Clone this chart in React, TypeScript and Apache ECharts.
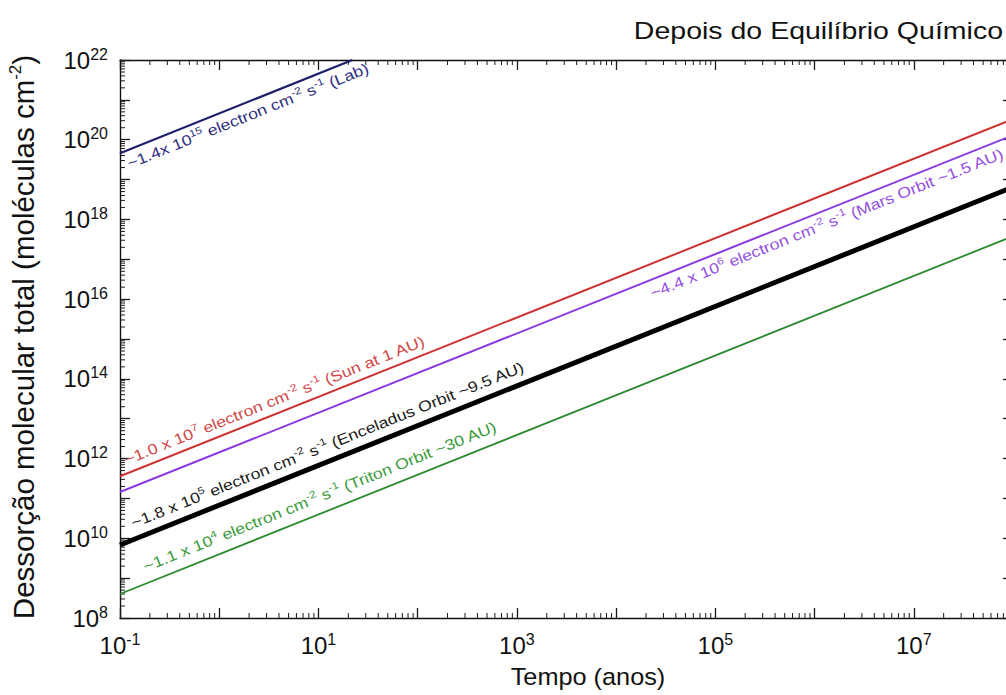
import React, { useEffect, useRef } from 'react';
import * as echarts from 'echarts';

// ---- data ----
const xMin = 0.1;
const xMax = 1e8;
const yMin = 1e8;
const yMax = 1e22;

const labData = [[0.1, 4.6e19], [22, 1e22]];
const sunData = [[0.1, 3.6e11], [1e8, 3.3e20]];
const marsData = [[0.1, 1.45e11], [1e8, 1.3e20]];
const enceladusData = [[0.1, 6.8e9], [1e8, 6.5e18]];
const tritonData = [[0.1, 4.0e8], [1e8, 3.8e17]];

const seriesNames = ['Lab', 'Sun at 1 AU', 'Mars Orbit', 'Enceladus Orbit', 'Triton Orbit'];
const labelTexts = [
  '~1.4x 10{s|15} electron cm{s|-2} s{s|-1} (Lab)',
  '~1.0 x 10{s|7} electron cm{s|-2} s{s|-1} (Sun at 1 AU)',
  '~4.4 x 10{s|6} electron cm{s|-2} s{s|-1} (Mars Orbit ~1.5 AU)',
  '~1.8 x 10{s|5} electron cm{s|-2} s{s|-1} (Enceladus Orbit ~9.5 AU)',
  '~1.1 x 10{s|4} electron cm{s|-2} s{s|-1} (Triton Orbit ~30 AU)',
];
const labelStartX = [0.107, 0.125, 2.0e4, 0.15, 0.2];

const xDecades = [-1, 0, 1, 2, 3, 4, 5, 6, 7];
const yDecades = [8, 9, 10, 11, 12, 13, 14, 15, 16, 17, 18, 19, 20, 21];
const minorMultipliers = [2, 3, 4, 5, 6, 7, 8, 9];

const titleText = 'Depois do Equilíbrio Químico';
const xTitle = 'Tempo (anos)';
const yTitle = 'Dessorção molecular total (moléculas cm{s|-2})';

// ---- styles ----
const FONT = '"Liberation Sans", Arial, Helvetica, sans-serif';
const lineColors = ['#1f1f6e', '#cc3333', '#8a3bdd', '#000000', '#2b8a2b'];
const textColors = ['#2e2e80', '#d04848', '#9450e0', '#1a1a1a', '#3a9a3a'];
const lineWidths = [2.2, 2, 2, 5, 1.8];
const labelSides = ['below', 'above', 'below', 'above', 'above'];
const labelGaps = [2, 3, 2, 4, 6];

const allData = [labData, sunData, marsData, enceladusData, tritonData];

export default function App() {
  const ref = useRef<HTMLDivElement>(null);

  useEffect(() => {
    if (!ref.current) return;
    const chart = echarts.init(ref.current, null, { renderer: 'svg' });

    const tickColor = '#1a1a1a';
    const richAxis = {
      b: { fontSize: 24, lineHeight: 28, fontFamily: FONT, color: '#111' },
      s: { fontSize: 16, lineHeight: 16, verticalAlign: 'top', fontFamily: FONT, color: '#111' },
    };

    const baseAxis = {
      type: 'log',
      logBase: 10,
      interval: 1,
      minInterval: 1,
      maxInterval: 1,
      splitLine: { show: false },
      axisLine: { show: true, onZero: false, lineStyle: { color: '#111', width: 1.4 } },
      axisTick: { show: true, inside: true, length: 10, lineStyle: { color: tickColor, width: 1.3 } },
    };

    const option: any = {
      animation: false,
      backgroundColor: '#ffffff',
      grid: { left: 120, top: 60, right: 17, bottom: 77, containLabel: false, outerBoundsMode: 'none' },
      xAxis: [
        {
          ...baseAxis,
          position: 'bottom',
          min: xMin,
          max: xMax,
          splitNumber: 9,
          axisLabel: {
            margin: 13,
            showMinLabel: true,
            showMaxLabel: true,
            hideOverlap: false,
            formatter: (v: number) => {
              const e = Math.round(Math.log10(v));
              return (e + 1) % 2 === 0 ? `{b|10}{s|${e}}` : '';
            },
            rich: richAxis,
          },
        },
        {
          ...baseAxis,
          position: 'top',
          min: xMin,
          max: xMax,
          splitNumber: 9,
          axisLabel: { show: false },
        },
      ],
      yAxis: [
        {
          ...baseAxis,
          position: 'left',
          min: yMin,
          max: yMax,
          splitNumber: 14,
          axisLabel: {
            margin: 12,
            showMinLabel: true,
            showMaxLabel: true,
            hideOverlap: false,
            formatter: (v: number) => {
              const e = Math.round(Math.log10(v));
              return e % 2 === 0 ? `{b|10}{s|${e}}` : '';
            },
            rich: richAxis,
          },
        },
        {
          ...baseAxis,
          position: 'right',
          min: yMin,
          max: yMax,
          splitNumber: 14,
          axisLabel: { show: false },
        },
      ],
      series: [
        ...allData.map((d, i) => ({
          name: seriesNames[i],
          type: 'line',
          data: d,
          xAxisIndex: 0,
          yAxisIndex: 0,
          symbol: 'none',
          showSymbol: false,
          clip: true,
          lineStyle: { color: lineColors[i], width: lineWidths[i] },
          itemStyle: { color: lineColors[i] },
          z: 3,
        })),
        {
          type: 'custom',
          xAxisIndex: 0,
          yAxisIndex: 0,
          silent: true,
          clip: false,
          data: [[1, 1e10]],
          z: 2,
          renderItem: (_params: any, api: any) => {
            const children: any[] = [];
            const bl = api.coord([xMin, yMin]);
            const tr = api.coord([xMax, yMax]);
            const st = { stroke: tickColor, lineWidth: 1 };
            xDecades.forEach((k) => {
              minorMultipliers.forEach((m) => {
                const v = m * Math.pow(10, k);
                if (v >= xMax) return;
                const p = api.coord([v, yMin]);
                children.push({ type: 'line', shape: { x1: p[0], y1: bl[1], x2: p[0], y2: bl[1] - 5 }, style: st });
                children.push({ type: 'line', shape: { x1: p[0], y1: tr[1], x2: p[0], y2: tr[1] + 5 }, style: st });
              });
            });
            yDecades.forEach((k) => {
              minorMultipliers.forEach((m) => {
                const v = m * Math.pow(10, k);
                if (v >= yMax) return;
                const p = api.coord([xMin, v]);
                children.push({ type: 'line', shape: { x1: bl[0], y1: p[1], x2: bl[0] + 5, y2: p[1] }, style: st });
                children.push({ type: 'line', shape: { x1: tr[0], y1: p[1], x2: tr[0] - 5, y2: p[1] }, style: st });
              });
            });
            return { type: 'group', children };
          },
        },
      ],
    };

    chart.setOption(option);

    // ---- annotations placed through the chart's own coordinate conversion ----
    const finder = { xAxisIndex: 0, yAxisIndex: 0 };
    const graphics: any[] = [];
    allData.forEach((d, i) => {
      const p0 = chart.convertToPixel(finder as any, d[0]) as number[];
      const p1 = chart.convertToPixel(finder as any, d[d.length - 1]) as number[];
      const a = Math.atan2(p0[1] - p1[1], p1[0] - p0[0]);
      const px = (chart.convertToPixel(finder as any, [labelStartX[i], d[0][1]]) as number[])[0];
      const py = p0[1] + ((px - p0[0]) * (p1[1] - p0[1])) / (p1[0] - p0[0]);
      const nx = -Math.sin(a);
      const ny = -Math.cos(a);
      const off = lineWidths[i] / 2 + labelGaps[i];
      const above = labelSides[i] === 'above';
      const sgn = above ? 1 : -1;
      graphics.push({
        type: 'text',
        id: 'lbl' + i,
        x: px + sgn * nx * off,
        y: py + sgn * ny * off,
        rotation: a,
        scaleX: 1.18,
        z: 10,
        style: {
          text: labelTexts[i],
          font: `15px ${FONT}`,
          fill: textColors[i],
          lineHeight: 19,
          align: 'left',
          textAlign: 'left',
          verticalAlign: above ? 'bottom' : 'top',
          textVerticalAlign: above ? 'bottom' : 'top',
          rich: {
            s: { fontSize: 10, lineHeight: 10, verticalAlign: 'top', fontFamily: FONT, fill: textColors[i], color: textColors[i] },
          },
        },
      });
    });

    graphics.push({
      type: 'text',
      id: 'title',
      x: 1003,
      y: 31,
      scaleX: 1.24,
      style: {
        text: titleText,
        font: `23px ${FONT}`,
        fill: '#111',
        align: 'right',
        textAlign: 'right',
        verticalAlign: 'middle',
        textVerticalAlign: 'middle',
      },
    });
    graphics.push({
      type: 'text',
      id: 'xtitle',
      x: 588,
      y: 677,
      scaleX: 1.1,
      style: {
        text: xTitle,
        font: `23px ${FONT}`,
        fill: '#111',
        align: 'center',
        textAlign: 'center',
        verticalAlign: 'middle',
        textVerticalAlign: 'middle',
      },
    });
    graphics.push({
      type: 'text',
      id: 'ytitle',
      x: 23,
      y: 337,
      rotation: Math.PI / 2,
      style: {
        text: yTitle,
        font: `29.5px ${FONT}`,
        fill: '#111',
        lineHeight: 32,
        align: 'center',
        textAlign: 'center',
        verticalAlign: 'middle',
        textVerticalAlign: 'middle',
        rich: {
          s: { fontSize: 17, lineHeight: 17, verticalAlign: 'top', fontFamily: FONT, fill: '#111', color: '#111' },
        },
      },
    });

    chart.setOption({ graphic: graphics });

    return () => {
      chart.dispose();
    };
  }, []);

  return (
    <div
      style={{
        position: 'fixed',
        left: 0,
        top: 0,
        width: 1006,
        height: 695,
        overflow: 'hidden',
        background: '#fff',
      }}
    >
      <div ref={ref} style={{ width: 1030, height: 695 }} />
    </div>
  );
}
